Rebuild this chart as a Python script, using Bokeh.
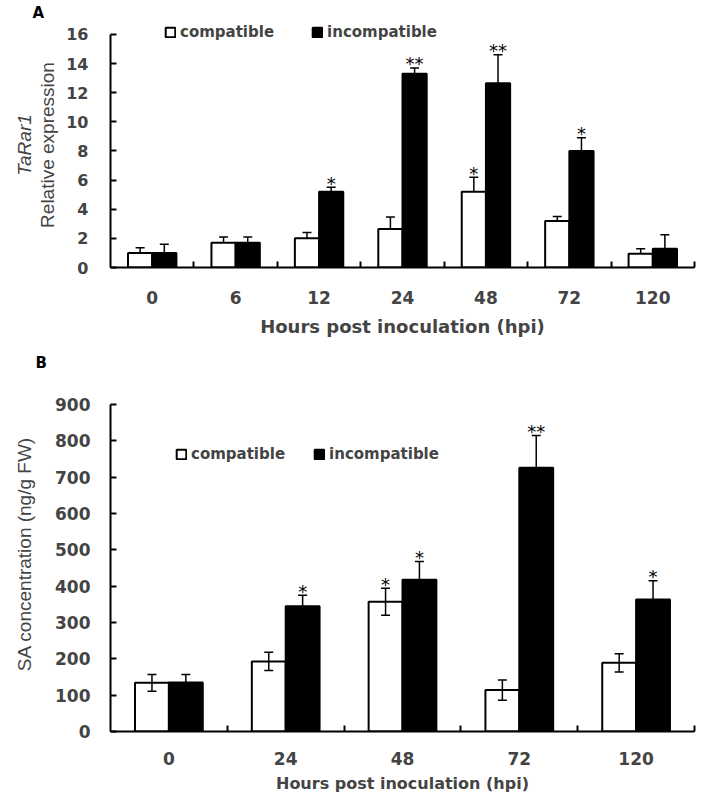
import numpy as np
from bokeh.plotting import figure
from bokeh.models import (ColumnDataSource, Whisker, TeeHead, Legend, LegendItem,
                          LinearAxis, FixedTicker, Range1d, Title)
from bokeh.layouts import column
from bokeh.embed import file_html
from bokeh.resources import INLINE
from bokeh.core.properties import value

# ---------------- data: panel A (TaRar1 relative expression) ----------------
hours_a = ["0", "6", "12", "24", "48", "72", "120"]
compat_a = [1.0, 1.7, 2.0, 2.65, 5.2, 3.2, 0.95]
compat_a_err = [0.36, 0.4, 0.4, 0.82, 1.0, 0.3, 0.33]
incompat_a = [1.0, 1.7, 5.2, 13.3, 12.65, 8.0, 1.28]
incompat_a_err = [0.6, 0.4, 0.3, 0.4, 1.95, 0.9, 0.97]
compat_a_sig = ["", "", "", "", "*", "", ""]
incompat_a_sig = ["", "", "*", "**", "**", "*", ""]
yticks_a = [0, 2, 4, 6, 8, 10, 12, 14, 16]

# ---------------- data: panel B (SA concentration) ----------------
hours_b = ["0", "24", "48", "72", "120"]
compat_b = [134, 193, 357, 114, 189]
compat_b_err = [23, 25, 37, 28, 25]
incompat_b = [135, 345, 418, 726, 363]
incompat_b_err = [22, 30, 50, 89, 52]
compat_b_sig = ["", "", "*", "", ""]
incompat_b_sig = ["", "*", "*", "**", "*"]
yticks_b = [0, 100, 200, 300, 400, 500, 600, 700, 800, 900]

BOLD = "DejaVu Sans"
REG = "Liberation Sans"
BW = 0.29


def panel(hours, comp, comp_err, inc, inc_err, comp_sig, inc_sig, yticks,
          height, width, mb_left, mb_right, mb_top, mb_bottom, axis_px, extra_px,
          both_err, ytitle, extra_title, tick_fs, xtick_fs, xtitle_fs,
          xl_standoff, xt_standoff, yl_standoff, yt_standoff,
          legend_loc, legend_spacing, letter, letter_offset, letter_standoff):
    n = len(hours)
    y0, y1 = yticks[0], yticks[-1]
    y_end = y1 + extra_px * (y1 - y0) / axis_px
    p = figure(width=width, height=height, output_backend="svg", toolbar_location=None,
               x_range=Range1d(-0.5, n - 0.5), y_range=Range1d(y0, y_end),
               min_border_left=mb_left, min_border_right=mb_right,
               min_border_top=mb_top, min_border_bottom=mb_bottom,
               x_axis_type=None, y_axis_type=None)
    p.outline_line_color = None
    p.background_fill_color = "white"
    p.border_fill_color = "white"

    p.title = Title(text=letter, align="left", offset=letter_offset, standoff=letter_standoff,
                    text_font=BOLD, text_font_style="bold", text_font_size="15px",
                    text_color="black")

    idx = np.arange(n)
    xc = idx - BW / 2
    xi = idx + BW / 2
    comp = np.array(comp, float)
    inc = np.array(inc, float)
    ce = np.array(comp_err, float)
    ie = np.array(inc_err, float)

    src_c = ColumnDataSource(dict(x=xc, top=comp, upper=comp + ce,
                                  lower=(comp - ce) if both_err else comp, sig=comp_sig))
    src_i = ColumnDataSource(dict(x=xi, top=inc, upper=inc + ie,
                                  lower=(inc - ie) if both_err else inc, sig=inc_sig))

    rc = p.vbar(x="x", top="top", width=BW, bottom=0, source=src_c,
                fill_color="white", line_color="black", line_width=2)
    ri = p.vbar(x="x", top="top", width=BW, bottom=0, source=src_i,
                fill_color="black", line_color="black", line_width=2)

    for src in (src_c, src_i):
        w = Whisker(base="x", upper="upper", lower="lower", source=src,
                    line_color="black", line_width=1.5, level="annotation",
                    upper_head=TeeHead(size=9, line_width=1.5, line_color="black"),
                    lower_head=TeeHead(size=9, line_width=1.5, line_color="black") if both_err else None)
        p.add_layout(w)
        p.text(x="x", y="upper", text="sig", source=src, text_align="center",
               text_baseline="alphabetic", y_offset=-4,
               text_font=value("DejaVu Sans"), text_font_size="18px", text_color="black")

    # x axis: labels at group centres, ticks at group boundaries
    xax = LinearAxis(ticker=FixedTicker(ticks=list(idx), minor_ticks=list(idx[:-1] + 0.5) + [n - 0.5]),
                     major_label_overrides={int(i): h for i, h in zip(idx, hours)})
    xax.axis_line_width = 2
    xax.major_tick_in = 0
    xax.major_tick_out = 0
    xax.minor_tick_in = 6
    xax.minor_tick_out = 0
    xax.minor_tick_line_width = 2
    xax.major_label_text_font = BOLD
    xax.major_label_text_font_style = "bold"
    xax.major_label_text_font_size = xtick_fs
    xax.major_label_standoff = xl_standoff
    xax.axis_label = "Hours post inoculation (hpi)"
    xax.axis_label_text_font = BOLD
    xax.axis_label_text_font_style = "bold"
    xax.axis_label_text_font_size = xtitle_fs
    xax.axis_label_standoff = xt_standoff
    p.add_layout(xax, "below")

    yax = LinearAxis(ticker=FixedTicker(ticks=yticks, minor_ticks=[]), bounds=(y0, y1))
    yax.axis_line_width = 2
    yax.major_tick_in = 6
    yax.major_tick_out = 0
    yax.major_tick_line_width = 2
    yax.minor_tick_in = 0
    yax.minor_tick_out = 0
    yax.major_label_text_font = BOLD
    yax.major_label_text_font_style = "bold"
    yax.major_label_text_font_size = tick_fs
    yax.major_label_standoff = yl_standoff
    yax.axis_label = ytitle
    yax.axis_label_text_font = REG
    yax.axis_label_text_font_style = "normal"
    yax.axis_label_text_font_size = "19px"
    yax.axis_label_standoff = yt_standoff
    p.add_layout(yax, "left")

    if extra_title:
        ax2 = LinearAxis(ticker=FixedTicker(ticks=[]), axis_line_color=None,
                         major_tick_in=0, major_tick_out=0, minor_tick_in=0, minor_tick_out=0,
                         major_label_standoff=0)
        ax2.axis_label = extra_title
        ax2.axis_label_text_font = REG
        ax2.axis_label_text_font_style = "italic"
        ax2.axis_label_text_font_size = "19px"
        ax2.axis_label_standoff = 0
        p.add_layout(ax2, "left")

    leg = Legend(items=[LegendItem(label="compatible", renderers=[rc]),
                        LegendItem(label="incompatible", renderers=[ri])],
                 orientation="horizontal", location=legend_loc, padding=0, margin=0,
                 spacing=legend_spacing, label_standoff=4, glyph_width=12, glyph_height=12,
                 border_line_color=None, background_fill_alpha=0,
                 label_text_font=BOLD, label_text_font_style="bold",
                 label_text_font_size="15px")
    p.add_layout(leg)
    return p


pA = panel(hours_a, compat_a, compat_a_err, incompat_a, incompat_a_err,
           compat_a_sig, incompat_a_sig, yticks_a,
           height=344, width=720, mb_left=110, mb_right=26, mb_top=20, mb_bottom=77,
           axis_px=235, extra_px=12, both_err=False,
           ytitle="Relative expression", extra_title="TaRar1",
           tick_fs="16px", xtick_fs="17px", xtitle_fs="18px",
           xl_standoff=23, xt_standoff=9, yl_standoff=22, yt_standoff=5,
           legend_loc=(54, 226), legend_spacing=37, letter="A", letter_offset=-78,
           letter_standoff=2)

pB = panel(hours_b, compat_b, compat_b_err, incompat_b, incompat_b_err,
           compat_b_sig, incompat_b_sig, yticks_b,
           height=454, width=720, mb_left=107, mb_right=6, mb_top=32, mb_bottom=67,
           axis_px=327, extra_px=28, both_err=True,
           ytitle="SA concentration (ng/g FW)", extra_title=None,
           tick_fs="17px", xtick_fs="17px", xtitle_fs="16px",
           xl_standoff=20, xt_standoff=6, yl_standoff=20, yt_standoff=17,
           legend_loc=(65, 268), legend_spacing=28, letter="B", letter_offset=-75,
           letter_standoff=10)

layout = column(pA, pB)
open("out.html", "w").write(file_html(layout, INLINE))
